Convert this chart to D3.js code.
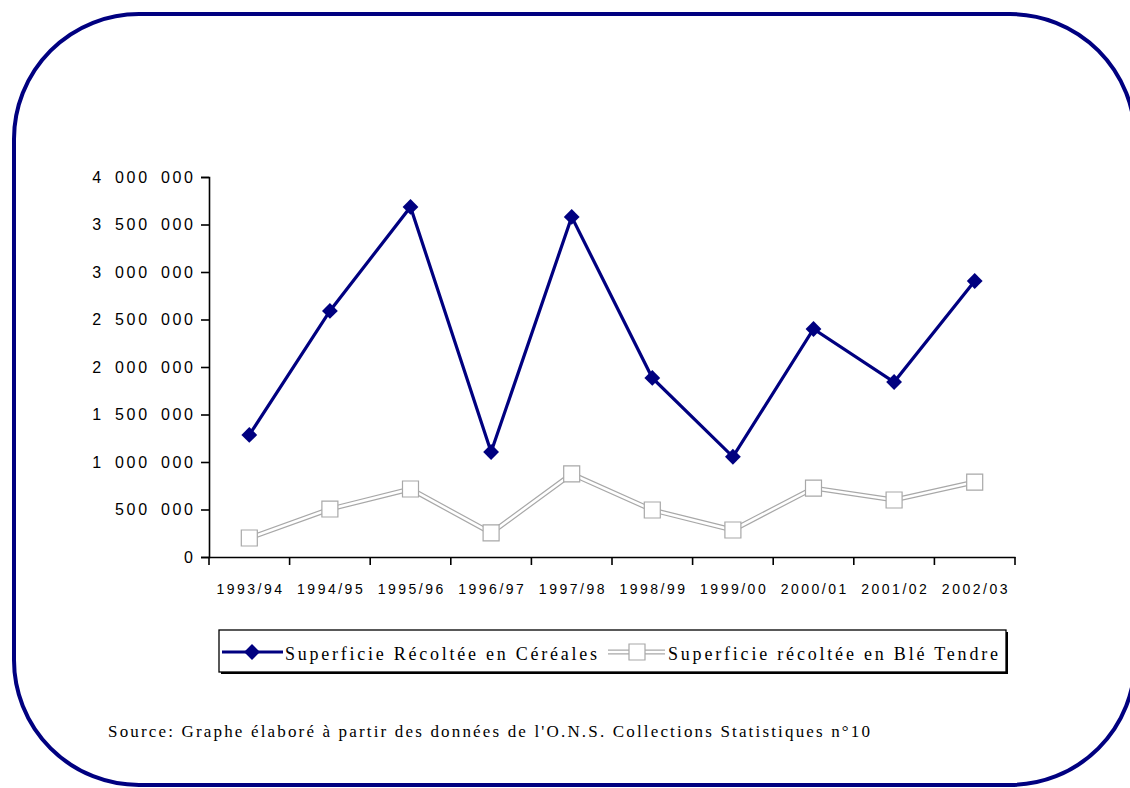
<!DOCTYPE html>
<html>
<head>
<meta charset="utf-8">
<script src="https://cdn.jsdelivr.net/npm/d3@7/dist/d3.min.js"></script>
<style>
  html, body { margin: 0; padding: 0; background: #ffffff; }
  svg { display: block; }
  .tick-y text { font-family: "Liberation Sans", Arial, sans-serif; font-size: 16px; letter-spacing: 2.7px; word-spacing: 4px; fill: #000; }
  .tick-x text { font-family: "Liberation Sans", Arial, sans-serif; font-size: 14px; letter-spacing: 2.5px; fill: #000; }
  .serif { font-family: "Liberation Serif", "Times New Roman", serif; fill: #000; }
</style>
</head>
<body>
<svg id="chart" width="1130" height="788"></svg>
<script>
// Harvested area by campaign (hectares)
const campaigns = ["1993/94", "1994/95", "1995/96", "1996/97", "1997/98",
                   "1998/99", "1999/00", "2000/01", "2001/02", "2002/03"];
const cereales = [1285000, 2590000, 3685000, 1105000, 3580000,
                  1885000, 1055000, 2400000, 1842000, 2905000];
const bleTendre = [200000, 505000, 716000, 253000, 874000,
                   495000, 284000, 726000, 600000, 789000];
const yTicks = [0, 500000, 1000000, 1500000, 2000000, 2500000, 3000000, 3500000, 4000000];
const seriesNames = ["Superficie Récoltée en Céréales", "Superficie récoltée en Blé Tendre"];
const sourceText = "Source:  Graphe élaboré à partir des données de l'O.N.S. Collections Statistiques n°10";

const NAVY = "#000080";
const svg = d3.select("#chart");

// Rounded frame around the whole figure
svg.append("rect")
  .attr("x", 14).attr("y", 14)
  .attr("width", 1121).attr("height", 771)
  .attr("rx", 125).attr("ry", 125)
  .attr("fill", "none")
  .attr("stroke", NAVY)
  .attr("stroke-width", 4);

const x = d3.scaleBand().domain(campaigns).range([209, 1015]).padding(0);
const y = d3.scaleLinear().domain([0, 4000000]).range([557, 177]);

const fr = d3.formatLocale({ decimal: ",", thousands: " ", grouping: [3], currency: ["", " €"] });
const fmt = fr.format(",d");

// Y axis
const yAxis = svg.append("g")
  .attr("class", "tick-y")
  .attr("transform", "translate(209,0)")
  .call(d3.axisLeft(y).tickValues(yTicks).tickFormat(fmt).tickSize(8).tickPadding(4));
yAxis.select(".domain").attr("stroke", "#000").attr("stroke-width", 1.6);
yAxis.selectAll(".tick line").attr("stroke", "#000").attr("stroke-width", 1.6);
yAxis.selectAll(".tick text").attr("x", -13.3);

// X axis: labels centred in each band, tick marks at band boundaries
const xAxis = svg.append("g")
  .attr("class", "tick-x")
  .attr("transform", "translate(0,557)")
  .call(d3.axisBottom(x).tickSize(0).tickPadding(27));
xAxis.select(".domain").attr("stroke", "#000").attr("stroke-width", 1.6);
xAxis.selectAll(".tick text").attr("dx", "1.2px");
const edges = campaigns.map(c => x(c)).concat([x.range()[1]]);
xAxis.selectAll("line.edge")
  .data(edges)
  .join("line")
  .attr("class", "edge")
  .attr("x1", d => d).attr("x2", d => d)
  .attr("y1", 0).attr("y2", 8)
  .attr("stroke", "#000").attr("stroke-width", 1.6);

const cx = c => x(c) + x.bandwidth() / 2;

// Blé tendre: double-edged white line with hollow squares
const lineBle = d3.line().x((d, i) => cx(campaigns[i])).y(d => y(d));
svg.append("path").datum(bleTendre)
  .attr("d", lineBle).attr("fill", "none")
  .attr("stroke", "#a8a8a8").attr("stroke-width", 5).attr("stroke-linejoin", "miter");
svg.append("path").datum(bleTendre)
  .attr("d", lineBle).attr("fill", "none")
  .attr("stroke", "#ffffff").attr("stroke-width", 2.6).attr("stroke-linejoin", "miter");
const sq = d3.symbol().type(d3.symbolSquare).size(256);
svg.selectAll("path.sq")
  .data(bleTendre)
  .join("path")
  .attr("class", "sq")
  .attr("d", sq)
  .attr("transform", (d, i) => `translate(${cx(campaigns[i])},${y(d)})`)
  .attr("fill", "#fff").attr("stroke", "#a8a8a8").attr("stroke-width", 1.2);

// Céréales: navy line with diamonds
const lineCer = d3.line().x((d, i) => cx(campaigns[i])).y(d => y(d));
svg.append("path").datum(cereales)
  .attr("d", lineCer).attr("fill", "none")
  .attr("stroke", NAVY).attr("stroke-width", 3.2).attr("stroke-linejoin", "miter");
const diamond = d3.symbol().type(d3.symbolSquare).size(125);
svg.selectAll("path.dia")
  .data(cereales)
  .join("path")
  .attr("class", "dia")
  .attr("d", diamond)
  .attr("transform", (d, i) => `translate(${cx(campaigns[i])},${y(d)}) rotate(45)`)
  .attr("fill", NAVY);

// Legend box with shadow
const lg = svg.append("g");
lg.append("rect").attr("x", 221).attr("y", 632).attr("width", 787).attr("height", 42).attr("fill", "#000");
lg.append("rect").attr("x", 219).attr("y", 630).attr("width", 787).attr("height", 42)
  .attr("fill", "#fff").attr("stroke", "#000").attr("stroke-width", 1.3);

const legY = 652;
lg.append("line").attr("x1", 222).attr("x2", 283).attr("y1", legY).attr("y2", legY)
  .attr("stroke", NAVY).attr("stroke-width", 3.2);
lg.append("path").attr("d", diamond)
  .attr("transform", `translate(252,${legY}) rotate(45)`).attr("fill", NAVY);
lg.append("text").attr("class", "serif")
  .attr("x", 285).attr("y", 660)
  .attr("font-size", 18)
  .attr("textLength", 312).attr("lengthAdjust", "spacing")
  .text(seriesNames[0]);

lg.append("line").attr("x1", 608).attr("x2", 665).attr("y1", legY).attr("y2", legY)
  .attr("stroke", "#a8a8a8").attr("stroke-width", 5);
lg.append("line").attr("x1", 608).attr("x2", 665).attr("y1", legY).attr("y2", legY)
  .attr("stroke", "#fff").attr("stroke-width", 2.6);
lg.append("path").attr("d", sq)
  .attr("transform", `translate(637,${legY})`)
  .attr("fill", "#fff").attr("stroke", "#a8a8a8").attr("stroke-width", 1.2);
lg.append("text").attr("class", "serif")
  .attr("x", 668).attr("y", 660)
  .attr("font-size", 18)
  .attr("textLength", 330).attr("lengthAdjust", "spacing")
  .text(seriesNames[1]);

// Source note
svg.append("text").attr("class", "serif")
  .attr("x", 108).attr("y", 737)
  .attr("font-size", 17)
  .attr("textLength", 762).attr("lengthAdjust", "spacing")
  .text(sourceText);
</script>
</body>
</html>
